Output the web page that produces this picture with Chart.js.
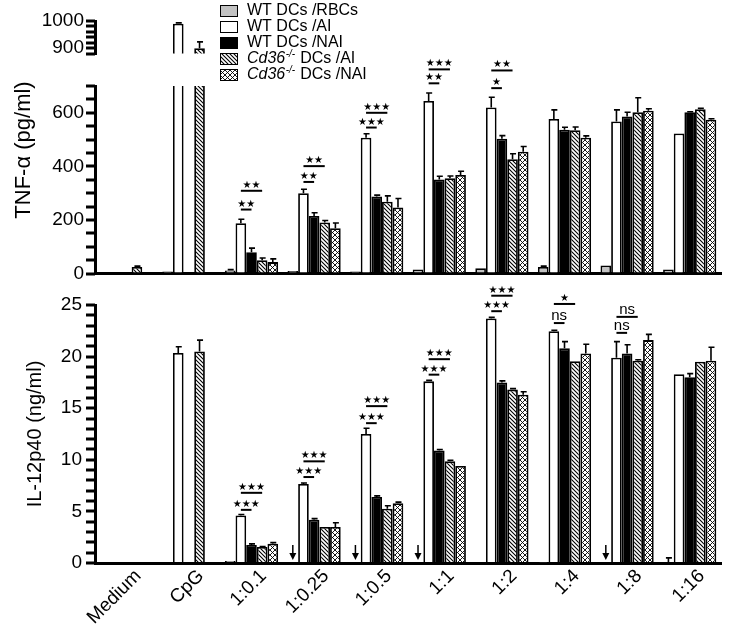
<!DOCTYPE html>
<html><head><meta charset="utf-8">
<script src="https://cdn.jsdelivr.net/npm/chart.js@4.4.1/dist/chart.umd.min.js"></script>
<style>
html,body{margin:0;padding:0;background:#fff;}
#wrap{position:relative;width:731px;height:627px;overflow:hidden;background:#fff;}
canvas{position:absolute;left:0;}
</style></head><body>
<div id="wrap">
<canvas id="cM" width="731" height="290" style="top:0px"></canvas>
<canvas id="cU" width="731" height="70" style="top:0px"></canvas>
<canvas id="cB" width="731" height="347" style="top:280px"></canvas>
</div>
<script>
// ---------------- DATA ----------------
const categories = ['Medium','CpG','1:0.1','1:0.25','1:0.5','1:1','1:2','1:4','1:8','1:16'];
const seriesNames = ['WT DCs /RBCs','WT DCs /AI','WT DCs /NAI','Cd36-/- DCs /AI','Cd36-/- DCs /NAI'];

// TNF-alpha (pg/ml)
const tnfRBC   = [5, 8, 12, 10, 8, 15, 20, 25, 30, 15];
const tnfAI    = [4, 990, 188, 300, 507, 644, 620, 577, 568, 523];
const tnfNAI   = [0, 0, 80, 215, 288, 351, 503, 537, 586, 602];
const tnfCdAI  = [25, 900, 50, 191, 268, 356, 427, 535, 602, 613];
const tnfCdNAI = [0, 0, 43, 169, 247, 368, 455, 507, 608, 574];
const tnfErrRBC   = [0, 0, 3, 0, 0, 0, 0, 3, 0, 0];
const tnfErrAI    = [0, 3, 15, 15, 15, 30, 38, 34, 43, 0];
const tnfErrNAI   = [0, 0, 15, 12, 5, 12, 12, 9, 16, 2];
const tnfErrCdAI  = [3, 23, 8, 7, 22, 8, 20, 12, 54, 4];
const tnfErrCdNAI = [0, 0, 12, 20, 33, 14, 19, 7, 7, 4];

// IL-12p40 (ng/ml)
const ilRBC   = [0.1, 0, 0.2, null, null, null, 0.1, 0.05, null, 0.1];
const ilAI    = [0.1, 20.35, 4.6, 7.65, 12.5, 17.6, 23.7, 22.45, 19.9, 18.3];
const ilNAI   = [0.1, 0, 1.75, 4.2, 6.4, 10.9, 17.5, 20.8, 20.3, 18.0];
const ilCdAI  = [0, 20.5, 1.55, 3.5, 5.25, 9.85, 16.8, 19.55, 19.6, 19.5];
const ilCdNAI = [0.1, 0, 1.87, 3.5, 5.8, 9.4, 16.3, 20.3, 21.6, 19.6];
const ilErrRBC   = [0, 0, 0, 0, 0, 0, 0, 0, 0, 0.4];
const ilErrAI    = [0, 0.6, 0.1, 0.1, 0.55, 0.1, 0.1, 0.1, 1.55, 0];
const ilErrNAI   = [0, 0, 0.1, 0.1, 0.1, 0.1, 0.15, 0.65, 0.85, 0.35];
const ilErrCdAI  = [0, 1.1, 0.05, 0, 0.3, 0.1, 0.1, 0, 0.1, 0];
const ilErrCdNAI = [0, 0, 0.1, 0.4, 0.1, 0, 0.3, 0.9, 0.55, 1.3];
const ilBelowDetection = [3, 4, 5, 8];   // categories with arrow (RBC below detection)

// significance brackets: [category, value, fromSeries, toSeries, label]
const tnfSig = [
  [2, 239, 1, 2, '**'], [2, 309, 1, 3, '**'],
  [3, 342, 1, 2, '**'], [3, 401, 1, 3, '**'],
  [4, 545, 1, 2, '***'], [4, 600, 1, 3, '***'],
  [5, 710, 1, 2, '**'], [5, 762, 1, 3, '***'],
  [6, 692, 1, 2, '*'], [6, 758, 1, 3, '**']
];
const ilSig = [
  [2, 5.15, 1, 2, '***'], [2, 6.8, 1, 3, '***'],
  [3, 8.33, 1, 2, '***'], [3, 9.85, 1, 3, '***'],
  [4, 13.55, 1, 2, '***'], [4, 15.2, 1, 3, '***'],
  [5, 18.25, 1, 2, '***'], [5, 19.75, 1, 3, '***'],
  [6, 24.4, 1, 2, '***'], [6, 25.9, 1, 3, '***'],
  [7, 23.25, 1, 2, 'ns'], [7, 25.1, 1, 3, '*'],
  [8, 22.3, 1, 2, 'ns'], [8, 23.85, 1, 3, 'ns']
];

// ---------------- STYLE ----------------
const FONT = "'Liberation Sans', Arial, Helvetica, sans-serif";
function makePattern(kind) {
  const n = kind === 'cross' ? 5 : 4;
  const c = document.createElement('canvas'); c.width = n; c.height = n;
  const g = c.getContext('2d');
  g.fillStyle = '#fff'; g.fillRect(0, 0, n, n);
  g.strokeStyle = '#000'; g.lineWidth = kind === 'cross' ? 0.9 : 1.1;
  g.beginPath();
  g.moveTo(-1, -1); g.lineTo(n + 1, n + 1); g.moveTo(-1, n - 1); g.lineTo(1, n + 1); g.moveTo(n - 1, -1); g.lineTo(n + 1, 1);
  if (kind === 'cross') {
    g.moveTo(n + 1, -1); g.lineTo(-1, n + 1); g.moveTo(1, -1); g.lineTo(-1, 1); g.moveTo(n + 1, n - 1); g.lineTo(n - 1, n + 1);
  }
  g.stroke();
  return g.createPattern(c, 'repeat');
}
const fills = ['#c2c2c2', '#ffffff', '#000000', makePattern('hatch'), makePattern('cross')];

// ---------------- PLUGIN ----------------
const overlay = {
  id: 'overlay',
  afterDraw(chart, args, o) {
    const ctx = chart.ctx, ys = chart.scales.y, a = chart.chartArea;
    // y-axis tick marks (major + minor) from the scale's own ticks
    ctx.save(); ctx.fillStyle = '#000';
    for (const t of ys.ticks) {
      const y = ys.getPixelForValue(t.value);
      ctx.fillRect(a.left - 9, Math.round(y) - 1.5, 9, 3);
    }
    ctx.restore();
    if (o.errors) {
      ctx.save();
      ctx.beginPath(); ctx.rect(a.left, a.top - 3, a.right - a.left, a.bottom - a.top + 3); ctx.clip();
      ctx.strokeStyle = '#000'; ctx.lineWidth = 1.6;
      o.errors.forEach((errs, di) => {
        const meta = chart.getDatasetMeta(di), data = chart.data.datasets[di].data;
        errs.forEach((e, i) => {
          const v = data[i]; if (v == null || !e) return;
          const x = meta.data[i].x;
          const y0 = ys.getPixelForValue(v), y1 = ys.getPixelForValue(v + e);
          ctx.beginPath(); ctx.moveTo(x, y0); ctx.lineTo(x, y1);
          ctx.moveTo(x - 2.5, y1); ctx.lineTo(x + 3.5, y1); ctx.stroke();
        });
      });
      ctx.restore();
    }
    if (o.sig) {
      ctx.save();
      ctx.strokeStyle = '#000'; ctx.fillStyle = '#000'; ctx.lineWidth = 2;
      ctx.textAlign = 'center'; ctx.textBaseline = 'alphabetic';
      o.sig.forEach(([c, v, f, t, s]) => {
        const x1 = chart.getDatasetMeta(f).data[c].x, x2 = chart.getDatasetMeta(t).data[c].x;
        const y = ys.getPixelForValue(v);
        ctx.beginPath(); ctx.moveTo(x1, y); ctx.lineTo(x2, y); ctx.stroke();
        if (s === 'ns') { ctx.font = '15px ' + FONT; ctx.fillText(s, (x1 + x2) / 2, y - 3); }
        else { ctx.font = '10px "DejaVu Sans"'; ctx.fillText(s.replace(/\*/g, '\u2605'), (x1 + x2) / 2, y - 3); }
      });
      ctx.restore();
    }
    if (o.arrows) {
      ctx.save(); ctx.strokeStyle = '#000'; ctx.fillStyle = '#000'; ctx.lineWidth = 1.5;
      const yb = ys.getPixelForValue(0) - 3;
      o.arrows.forEach(c => {
        const el = chart.getDatasetMeta(1).data[c];
        const x = el.x - el.width;
        ctx.beginPath(); ctx.moveTo(x, yb - 15); ctx.lineTo(x, yb - 5); ctx.stroke();
        ctx.beginPath(); ctx.moveTo(x - 3.5, yb - 7); ctx.lineTo(x + 3.5, yb - 7); ctx.lineTo(x, yb); ctx.closePath(); ctx.fill();
      });
      ctx.restore();
    }
    if (o.title) {
      ctx.save(); ctx.translate(o.title.x, o.title.y); ctx.rotate(-Math.PI / 2);
      ctx.font = o.title.size + 'px ' + FONT; ctx.fillStyle = '#000';
      ctx.textAlign = 'center'; ctx.textBaseline = 'middle';
      ctx.fillText(o.title.text, 0, 0); ctx.restore();
    }
    if (o.legend) {
      const L = o.legend;
      ctx.save(); ctx.textBaseline = 'middle'; ctx.fillStyle = '#000';
      chart.data.datasets.forEach((ds, i) => {
        const yc = L.y + i * L.step;
        ctx.fillStyle = ds.backgroundColor; ctx.fillRect(L.x, yc - 5.5, 17, 11);
        ctx.strokeStyle = '#000'; ctx.lineWidth = 1; ctx.strokeRect(L.x + 0.5, yc - 5.5, 17, 11);
        ctx.fillStyle = '#000';
        let tx = L.x + 27;
        let label = ds.label;
        if (label.startsWith('Cd36-/-')) {
          ctx.font = 'italic 16px ' + FONT; ctx.fillText('Cd36', tx, yc); tx += ctx.measureText('Cd36').width;
          ctx.font = 'italic 10px ' + FONT; ctx.fillText('-/-', tx + 0.5, yc - 5); tx += ctx.measureText('-/-').width + 1;
          label = label.slice(7);
        }
        ctx.font = '16px ' + FONT; ctx.fillText(label, tx, yc);
      });
      ctx.restore();
    }
  }
};

function datasetsFrom(arrs, filt) {
  return arrs.map((d, i) => ({
    label: seriesNames[i],
    data: filt ? d.map(filt) : d,
    backgroundColor: fills[i], borderColor: '#000', borderWidth: 1.8,
    categoryPercentage: 0.85, barPercentage: 1.0, clip: 0
  }));
}
function yAxis(min, max, step, labelFn, pad, extra) {
  return Object.assign({
    type: 'linear', min: min, max: max,
    ticks: { stepSize: step, autoSkip: false, color: '#000', padding: pad,
             font: { family: FONT, size: 19 }, callback: labelFn },
    grid: { display: true, drawOnChartArea: false, drawTicks: true, tickLength: 6, lineWidth: 2,
            color: '#000', tickWidth: 2, tickColor: '#000' },
    border: { display: true, width: 3, color: '#000' },
    afterFit(s) { s.width = 95; }
  }, extra || {});
}
const base = { responsive: false, animation: false, devicePixelRatio: 1, events: [] };

// Upper segment of broken TNF axis
new Chart(document.getElementById('cU'), {
  type: 'bar',
  data: { labels: categories, datasets: datasetsFrom([tnfRBC, tnfAI, tnfNAI, tnfCdAI, tnfCdNAI], v => v != null && v >= 880 ? v : null) },
  options: Object.assign({}, base, {
    layout: { padding: { left: 0, right: 10, top: 21, bottom: 11 } },
    scales: {
      x: { display: false },
      y: yAxis(880, 1000, 20, v => (v === 900 || v === 1000) ? v : '', 5)
    },
    plugins: { legend: { display: false }, tooltip: { enabled: false },
      overlay: { errors: [tnfErrRBC, tnfErrAI, tnfErrNAI, tnfErrCdAI, tnfErrCdNAI] } }
  }),
  plugins: [overlay]
});

// Lower segment of TNF axis
new Chart(document.getElementById('cM'), {
  type: 'bar',
  data: { labels: categories, datasets: datasetsFrom([tnfRBC, tnfAI, tnfNAI, tnfCdAI, tnfCdNAI]) },
  options: Object.assign({}, base, {
    layout: { padding: { left: 0, right: 10, top: 86, bottom: 14 } },
    scales: {
      x: { ticks: { display: false }, grid: { display: false, drawTicks: false },
           border: { display: true, width: 3, color: '#000' } },
      y: yAxis(0, 700, 50, v => v % 200 === 0 ? v : '', 5)
    },
    plugins: { legend: { display: false }, tooltip: { enabled: false },
      overlay: { errors: [tnfErrRBC, tnfErrAI, tnfErrNAI, tnfErrCdAI, tnfErrCdNAI], sig: tnfSig,
                 title: { text: 'TNF-\u03b1 (pg/ml)', x: 24, y: 150, size: 22 },
                 legend: { x: 220, y: 11, step: 16 } } }
  }),
  plugins: [overlay]
});

// IL-12p40 panel
new Chart(document.getElementById('cB'), {
  type: 'bar',
  data: { labels: categories, datasets: datasetsFrom([ilRBC, ilAI, ilNAI, ilCdAI, ilCdNAI]) },
  options: Object.assign({}, base, {
    layout: { padding: { left: 0, right: 10, top: 25, bottom: 0 } },
    scales: {
      x: { ticks: { display: true, autoSkip: false, minRotation: 45, maxRotation: 45, color: '#000',
                    font: { family: FONT, size: 19 }, padding: 2, labelOffset: 12 },
           grid: { display: false, drawTicks: false },
           border: { display: true, width: 3, color: '#000' },
           afterFit(s) { s.height = 64; } },
      y: yAxis(0, 25, 1, v => v % 5 === 0 ? v : '', 7, {
           title: { display: true, text: 'IL-12p40 (ng/ml)', color: '#000', font: { family: FONT, size: 20 }, padding: { top: 23, bottom: 0 } } })
    },
    plugins: { legend: { display: false }, tooltip: { enabled: false },
      overlay: { errors: [ilErrRBC, ilErrAI, ilErrNAI, ilErrCdAI, ilErrCdNAI], sig: ilSig, arrows: ilBelowDetection } }
  }),
  plugins: [overlay]
});
</script>
</body></html>
